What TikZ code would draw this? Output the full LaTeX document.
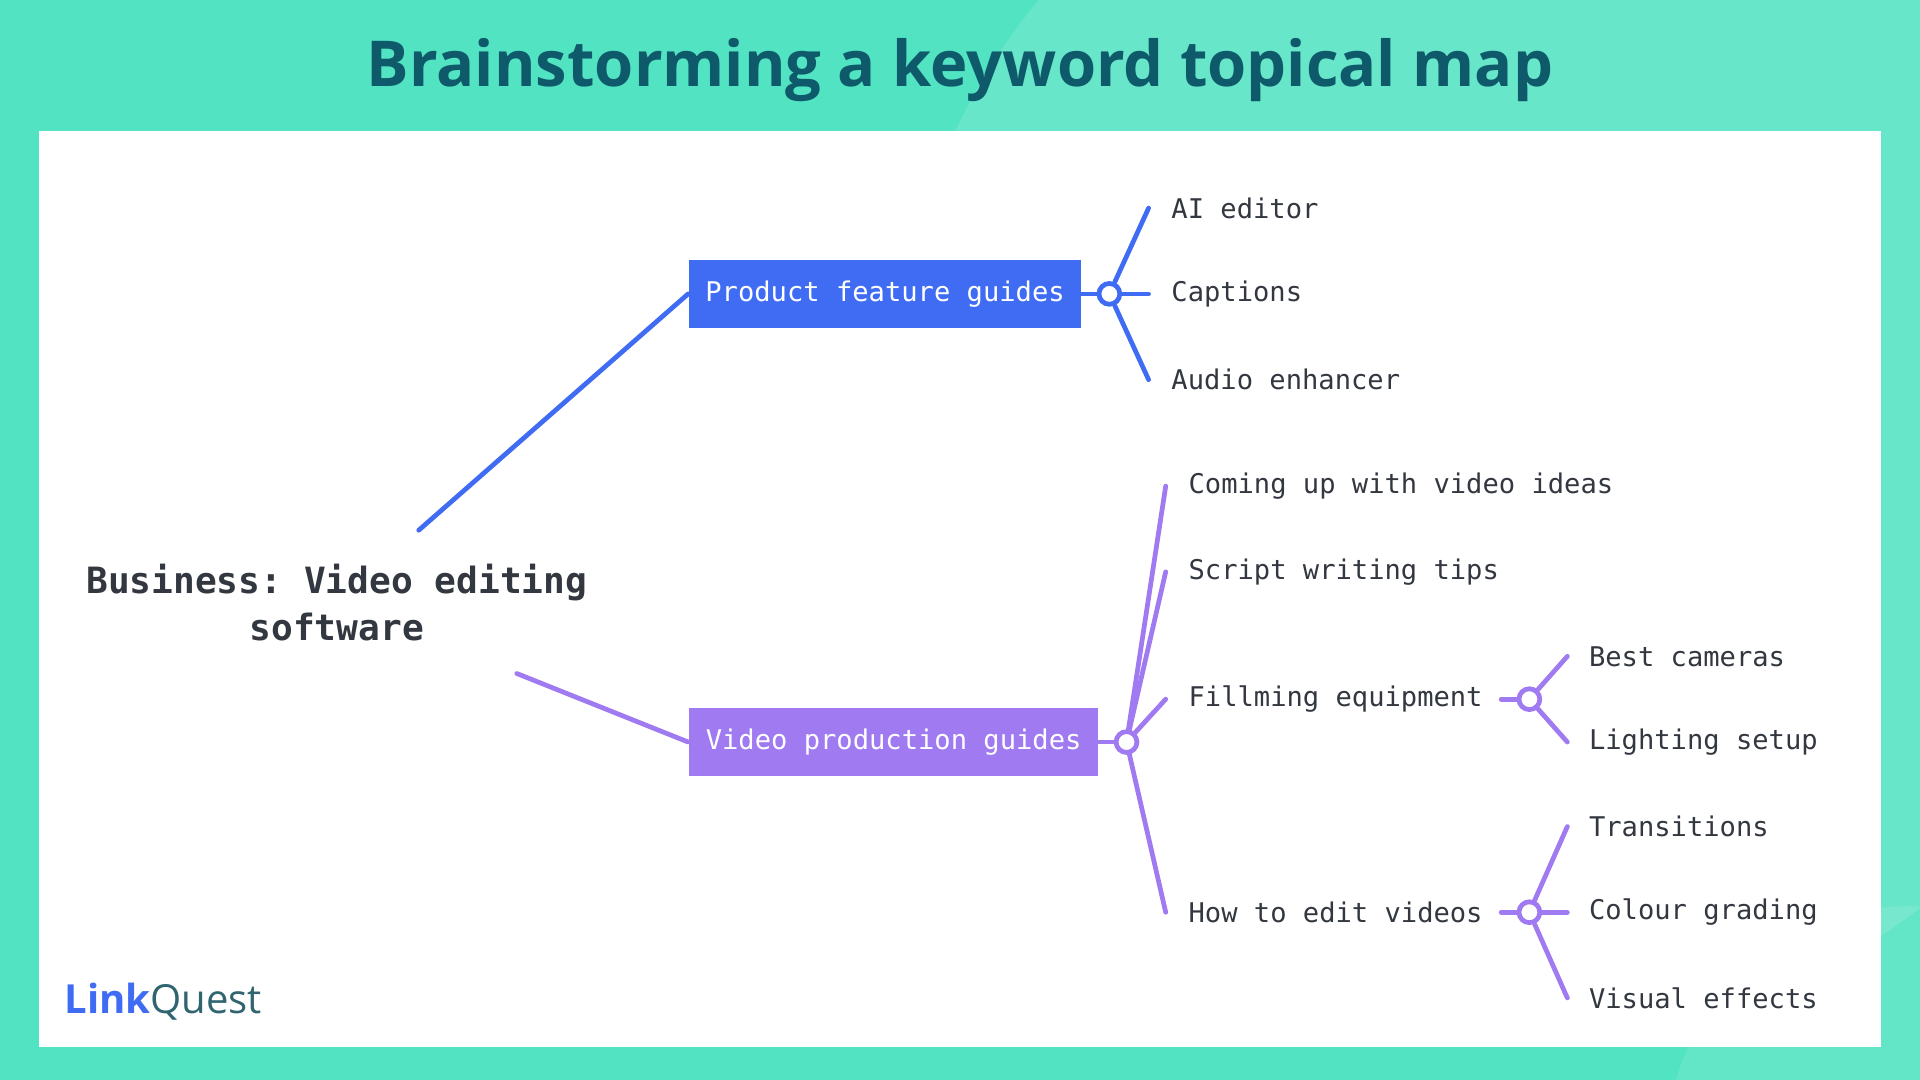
\documentclass[tikz,border=0pt]{standalone}
\usepackage{fontspec}
\setmainfont{Open Sans}
\setmonofont{DejaVu Sans Mono}
\definecolor{bgteal}{HTML}{52E3C2}
\definecolor{titleteal}{HTML}{0E5A6A}
\definecolor{featblue}{HTML}{3F6CF3}
\definecolor{prodpurple}{HTML}{A07AF0}
\definecolor{leafgray}{HTML}{333840}
\begin{document}
\begin{tikzpicture}[x=0.01cm,y=-0.01cm,
  box/.style={fill=#1,text=white,font=\ttfamily\fontsize{6.3}{8}\selectfont,minimum height=0.56cm,inner xsep=0pt,anchor=west},
  leaf/.style={text=leafgray,font=\ttfamily\fontsize{6.3}{8}\selectfont,anchor=west,inner sep=0pt},
  hub/.style={circle,draw=#1,line width=1.1pt,fill=white,minimum size=0.17cm,inner sep=0pt},
  wire/.style={draw=#1,line width=1.1pt,line cap=round}]

% background
\fill[bgteal] (0,0) rectangle (1568,882);
\begin{scope}
 \clip (0,0) rectangle (1568,882);
 \fill[white,opacity=0.13] (1250,330) circle (520);
 \fill[white,opacity=0.10] (1560,940) circle (200);
\end{scope}
\fill[white] (32,107) rectangle (1536,855);
\node[text=titleteal,font=\bfseries\fontsize{14.7}{17}\selectfont] (title) at (784,57) {Brainstorming a keyword topical map};

% root
\node[align=center,text=leafgray,font=\ttfamily\bfseries\fontsize{8.4}{10.8}\selectfont] (root) at (275,492) {Business: Video editing\\software};
\coordinate (rootA) at (342,433);
\coordinate (rootB) at (422,550);

% product feature guides
\node[box=featblue,minimum width=3.2cm] (feat) at (562,240) {Product feature guides};
\node[hub=featblue] (featH) at (906,240) {};
\path[wire=featblue] (rootA) -- (feat.west);
\path[wire=featblue] (feat.east) -- (featH);
\foreach \y/\t [count=\i] in {170/AI editor,240/Captions,310/Audio enhancer}{
  \coordinate (fe\i) at (938,\y);
  \node[leaf] (fl\i) at (956,\y) {\t};
  \path[wire=featblue] (featH) -- (fe\i);
}

% video production guides
\node[box=prodpurple,minimum width=3.34cm] (prod) at (562,606) {Video production guides};
\node[hub=prodpurple] (prodH) at (920,606) {};
\path[wire=prodpurple] (rootB) -- (prod.west);
\path[wire=prodpurple] (prod.east) -- (prodH);
\foreach \y/\t [count=\i] in {397/Coming up with video ideas,467/Script writing tips,571/Fillming equipment,745/How to edit videos}{
  \coordinate (pe\i) at (952,\y);
  \node[leaf] (pl\i) at (970,\y) {\t};
  \path[wire=prodpurple] (prodH) -- (pe\i);
}

% filming equipment
\node[hub=prodpurple] (filmH) at (1249,571) {};
\path[wire=prodpurple] (1226,571) -- (filmH);
\foreach \y/\t [count=\i] in {536/Best cameras,606/Lighting setup}{
  \coordinate (me\i) at (1280,\y);
  \node[leaf] (ml\i) at (1297,\y) {\t};
  \path[wire=prodpurple] (filmH) -- (me\i);
}

% how to edit videos
\node[hub=prodpurple] (editH) at (1249,745) {};
\path[wire=prodpurple] (1226,745) -- (editH);
\foreach \y/\t [count=\i] in {675/Transitions,745/Colour grading,815/Visual effects}{
  \coordinate (ee\i) at (1280,\y);
  \node[leaf] (el\i) at (1297,\y) {\t};
  \path[wire=prodpurple] (editH) -- (ee\i);
}

% logo
\node[anchor=west,inner sep=0pt,font=\fontsize{9.3}{11}\selectfont] (logo) at (52,818)
  {\textcolor{featblue}{\bfseries Link}\textcolor{titleteal!70!gray}{Quest}};
\end{tikzpicture}
\end{document}
